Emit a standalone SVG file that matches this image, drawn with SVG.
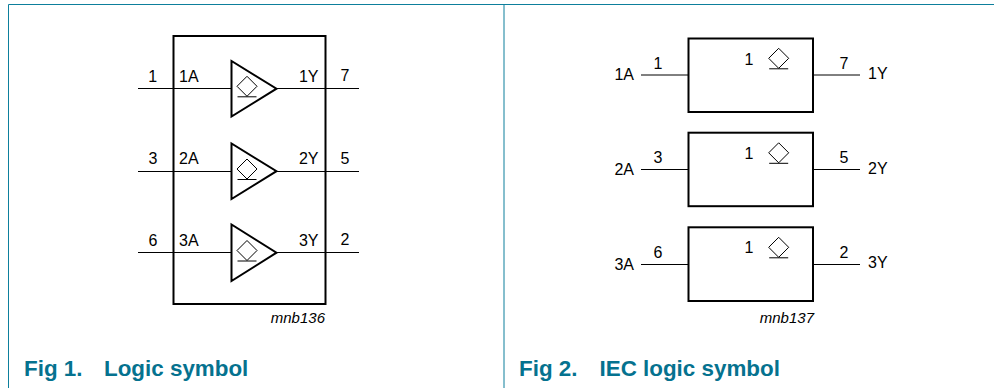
<svg xmlns="http://www.w3.org/2000/svg" width="994" height="388" viewBox="0 0 994 388">
<style>
.frame{fill:none;stroke:#0d7f9c;stroke-width:1}
.box{fill:#fff;stroke:#000;stroke-width:2}
.outer{fill:none;stroke:#000;stroke-width:2}
.thin{fill:none;stroke:#000;stroke-width:1}
.tri{fill:#fff;stroke:#000;stroke-width:2}
text{font-family:"Liberation Sans",Arial,sans-serif;font-size:16px;fill:#000}
.m{text-anchor:middle}
.e{text-anchor:end}
.ref{font-size:15px;font-style:italic}
.cap{font-size:22.400px;font-weight:bold;fill:#05728f}
</style>
<defs>
<g id="sym"><path class="thin" d="M0-10 10 0 0 10-10 0Z"/><path class="thin" d="M-9.500 10.500H9.500"/></g>
</defs>
<rect width="994" height="388" fill="#fff"/>
<path class="frame" d="M8.500 388V4.500H994M504 4.500V388"/>
<g id="connectors">
<path class="thin" d="M138 88.500H359M138 171.500H359M138 252.500H359"/>
<path class="thin" d="M641 75H688M813 75H860M641 169.500H688M813 169.500H860M641 264.500H688M813 264.500H860"/>
</g>
<g id="logic-symbol">
<rect class="outer" x="173.500" y="36" width="152" height="268"/>
</g>
<g id="buffer1"><path class="tri" d="M231.500 61V116.500L276.500 88.700Z"/><use href="#sym" x="247" y="86.300"/></g>
<g id="buffer2"><path class="tri" d="M231.500 143.500V199L276.500 171.200Z"/><use href="#sym" x="247" y="169"/></g>
<g id="buffer3"><path class="tri" d="M231.500 224.500V281L276.500 252.700Z"/><use href="#sym" x="247" y="250.500"/></g>
<g id="labels-left">
<text class="m" x="152.700" y="82">1</text><text x="179" y="82">1A</text><text class="e" x="318.500" y="82">1Y</text><text class="m" x="345" y="81">7</text>
<text class="m" x="153" y="164">3</text><text x="179" y="164">2A</text><text class="e" x="318.500" y="164">2Y</text><text class="m" x="345" y="164">5</text>
<text class="m" x="153" y="246">6</text><text x="179" y="246">3A</text><text class="e" x="318.500" y="246">3Y</text><text class="m" x="345" y="244.500">2</text>
<text class="ref e" x="325" y="323">mnb136</text>
<text class="cap" x="24" y="376">Fig 1.</text><text class="cap" x="104" y="376">Logic symbol</text>
</g>
<g id="iec1"><rect class="box" x="688.500" y="38.500" width="124.500" height="73.500"/><text class="m" x="749" y="65">1</text><use href="#sym" x="778.700" y="58.300"/><text class="e" x="634" y="80">1A</text><text class="m" x="658" y="69">1</text><text class="m" x="844" y="69">7</text><text x="868" y="79">1Y</text></g>
<g id="iec2"><rect class="box" x="688.500" y="132.700" width="124.500" height="73.500"/><text class="m" x="749" y="159">1</text><use href="#sym" x="778.700" y="152.800"/><text class="e" x="634" y="175">2A</text><text class="m" x="658" y="163">3</text><text class="m" x="844" y="163">5</text><text x="868" y="173.500">2Y</text></g>
<g id="iec3"><rect class="box" x="688.500" y="227.300" width="124.500" height="73.700"/><text class="m" x="749" y="253">1</text><use href="#sym" x="778.700" y="247.300"/><text class="e" x="634" y="270">3A</text><text class="m" x="658" y="258">6</text><text class="m" x="844" y="258">2</text><text x="868" y="268">3Y</text></g>
<text class="ref e" x="814" y="323">mnb137</text>
<text class="cap" x="519" y="376">Fig 2.</text><text class="cap" x="599.500" y="376">IEC logic symbol</text>
</svg>
